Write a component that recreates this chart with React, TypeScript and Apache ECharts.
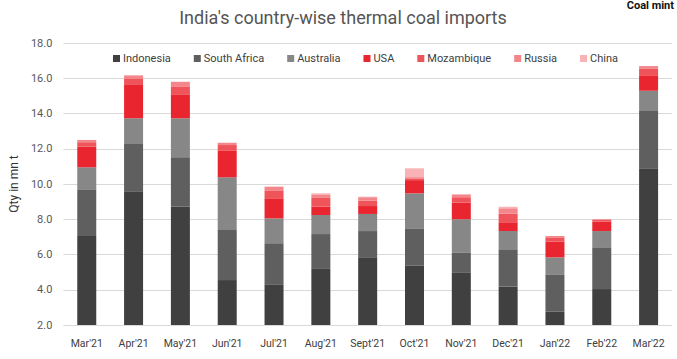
import React, { useEffect, useRef } from "react";
import * as echarts from "echarts";

const categories = ["Mar'21", "Apr'21", "May'21", "Jun'21", "Jul'21", "Aug'21", "Sept'21", "Oct'21", "Nov'21", "Dec'21", "Jan'22", "Feb'22", "Mar'22"];
const indonesia = [7.05, 9.59, 8.71, 4.55, 4.31, 5.22, 5.84, 5.36, 5.0, 4.18, 2.75, 4.04, 10.89];
const southAfrica = [2.65, 2.68, 2.81, 2.84, 2.33, 1.94, 1.49, 2.09, 1.12, 2.12, 2.09, 2.37, 3.25];
const australia = [1.25, 1.46, 2.21, 2.99, 1.41, 1.08, 0.97, 2.02, 1.88, 1.03, 1.0, 0.92, 1.15];
const usa = [1.17, 1.93, 1.36, 1.5, 1.14, 0.47, 0.45, 0.75, 0.95, 0.5, 0.9, 0.53, 0.84];
const mozambique = [0.25, 0.3, 0.45, 0.33, 0.45, 0.5, 0.3, 0.1, 0.3, 0.5, 0.2, 0.1, 0.4];
const russia = [0.13, 0.17, 0.26, 0.13, 0.21, 0.2, 0.2, 0.07, 0.13, 0.3, 0.11, 0.04, 0.16];
const china = [0, 0.05, 0, 0, 0, 0.06, 0.03, 0.5, 0.05, 0.08, 0, 0, 0];
const yTicks = [2, 4, 6, 8, 10, 12, 14, 16, 18];

const seriesDefs = [
  { name: "Indonesia", data: indonesia, color: "#404040" },
  { name: "South Africa", data: southAfrica, color: "#5f5f5f" },
  { name: "Australia", data: australia, color: "#878787" },
  { name: "USA", data: usa, color: "#e9262f" },
  { name: "Mozambique", data: mozambique, color: "#ef545a" },
  { name: "Russia", data: russia, color: "#f3868b" },
  { name: "China", data: china, color: "#f9b2b5" },
];

export default function App() {
  const ref = useRef<HTMLDivElement>(null);
  useEffect(() => {
    if (!ref.current) return;
    const chart = echarts.init(ref.current, null, { renderer: "svg" });
    const font = "Roboto, 'Open Sans', sans-serif";
    chart.setOption({
      animation: false,
      backgroundColor: "#ffffff",
      textStyle: { fontFamily: font },
      title: {
        text: "India's country-wise thermal coal imports",
        left: 338,
        textAlign: "center",
        top: 3,
        textStyle: { fontFamily: font, fontSize: 18, fontWeight: "normal", color: "#555555" },
      },
      graphic: [
        {
          type: "text",
          right: 3,
          top: 0,
          style: { text: "Coal mint", fontFamily: font, fontSize: 11, fontWeight: "bold", fill: "#111111" },
        },
      ],
      legend: {
        left: 108,
        top: 48,
        itemWidth: 7,
        itemHeight: 7,
        itemGap: 23,
        icon: "rect",
        textStyle: { fontFamily: font, fontSize: 11, color: "#404040", padding: [0, 0, 0, -2] },
        data: seriesDefs.map((s) => s.name),
      },
      grid: { left: 55, right: 5, top: 43, bottom: 34, containLabel: false },
      xAxis: {
        type: "category",
        data: categories,
        axisLine: { show: false },
        axisTick: { show: false },
        axisLabel: { color: "#404040", fontSize: 10.5, margin: 13, interval: 0, fontFamily: font },
      },
      yAxis: {
        type: "value",
        min: yTicks[0],
        max: yTicks[yTicks.length - 1],
        interval: 2,
        name: "Qty in mn t",
        nameLocation: "middle",
        nameGap: 42,
        nameTextStyle: { fontSize: 12, color: "#333333", fontFamily: font },
        axisLine: { show: false },
        axisTick: { show: false },
        axisLabel: { color: "#595959", fontSize: 11, margin: 11, formatter: (v: number) => v.toFixed(1), fontFamily: font },
        splitLine: { lineStyle: { color: "#d9d9d9", width: 1 } },
      },
      series: seriesDefs.map((s) => ({
        name: s.name,
        type: "bar",
        stack: "total",
        barWidth: 19,
        data: s.data,
        itemStyle: { color: s.color },
      })),
    });
    return () => chart.dispose();
  }, []);
  return <div ref={ref} style={{ position: "absolute", left: 0, top: 0, width: 677, height: 359 }} />;
}
